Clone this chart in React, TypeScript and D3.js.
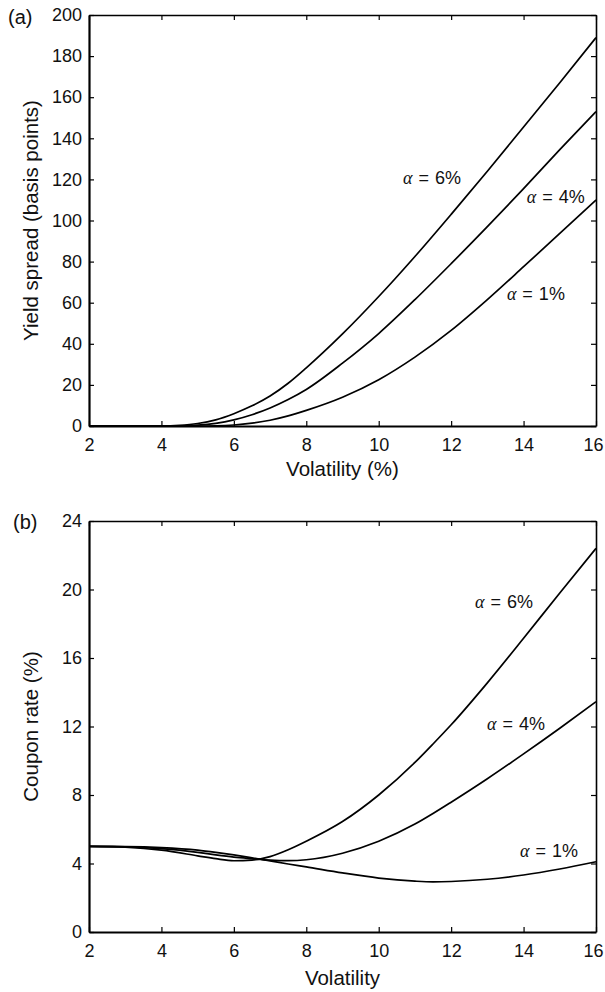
import React, { useRef, useEffect } from 'react';
import * as d3 from 'd3';

// panel (a): yield spread (basis points) against volatility (%)
const volA = [2, 3, 4, 4.5, 5, 5.5, 6, 6.5, 7, 7.5, 8, 9, 10, 11, 12, 13, 14, 15, 16];
const spread6 = [0, 0, 0, 0.3, 1.2, 3, 6, 9.8, 14.6, 20.8, 28.3, 44.8, 63, 82.5, 103, 124, 145.5, 167, 189];
const spread4 = [0, 0, 0, 0.1, 0.4, 1.3, 3, 5.5, 8.8, 12.9, 17.8, 30.6, 45, 61.5, 79, 97, 115.5, 134.5, 153];
const spread1 = [0, 0, 0, 0, 0, 0.1, 0.5, 1.4, 2.8, 4.9, 7.6, 14, 22.5, 33.5, 46.5, 61.5, 77.5, 93.7, 110];

// panel (b): coupon rate (%) against volatility
const volB = [2, 3, 4, 5, 5.5, 6, 6.5, 7, 7.5, 8, 9, 10, 11, 11.5, 12, 13, 14, 15, 16];
const coupon6 = [5.0, 4.95, 4.78, 4.45, 4.28, 4.16, 4.2, 4.4, 4.8, 5.3, 6.45, 8.0, 9.9, 10.98, 12.1, 14.55, 17.15, 19.8, 22.4];
const coupon4 = [5.0, 4.97, 4.87, 4.65, 4.5, 4.37, 4.28, 4.2, 4.17, 4.22, 4.6, 5.3, 6.3, 6.92, 7.58, 8.95, 10.4, 11.9, 13.45];
const coupon1 = [5.0, 4.99, 4.93, 4.78, 4.65, 4.5, 4.33, 4.15, 3.97, 3.8, 3.45, 3.15, 2.97, 2.93, 2.95, 3.08, 3.33, 3.68, 4.1];

const alphaNames = ['6%', '4%', '1%'];
const xTicks = [2, 4, 6, 8, 10, 12, 14, 16];
const spreadTicks = [0, 20, 40, 60, 80, 100, 120, 140, 160, 180, 200];
const couponTicks = [0, 4, 8, 12, 16, 20, 24];

// where each alpha label sits, in data units (volatility, value)
const spreadLabelAt = [[10.67, 117.8], [14.09, 108.5], [13.54, 61.3]];
const couponLabelAt = [[12.66, 18.9], [12.99, 11.8], [13.9, 4.38]];

const SANS = '"Liberation Sans", Arial, Helvetica, sans-serif';
const SERIF = '"Liberation Serif", "Times New Roman", serif';

type PanelOpts = {
  top: number;
  tag: string;
  tagX: number;
  tagY: number;
  xs: number[];
  series: number[][];
  yMax: number;
  yTicks: number[];
  yTitle: string;
  xTitle: string;
  xTitleGap: number;
  labelAt: number[][];
};

const App = () => {
  const svgRef = useRef<SVGSVGElement>(null);

  useEffect(() => {
    const W = 605;
    const H = 992;
    const left = 89;
    const right = 596;
    const panelH = 411;

    const svg = d3.select(svgRef.current);
    svg.selectAll('*').remove();
    svg.attr('width', W).attr('height', H);

    const drawPanel = (o: PanelOpts) => {
      const g = svg.append('g').attr('transform', `translate(0,${o.top})`);
      const x = d3.scaleLinear().domain([2, 16]).range([left, right]);
      const y = d3.scaleLinear().domain([0, o.yMax]).range([panelH, 0]);

      // bottom axis with labels
      const bx = g.append('g')
        .attr('transform', `translate(0,${panelH})`)
        .call(d3.axisBottom(x).tickValues(xTicks).tickSizeInner(-5).tickSizeOuter(0).tickPadding(12).tickFormat(d3.format('d')));
      bx.select('.domain').attr('stroke-width', 2.2);
      bx.selectAll('.tick line').attr('stroke-width', 1.2);
      bx.selectAll('text').style('font-family', SANS).style('font-size', '18px').attr('fill', '#111');
      // last label sits a little inside the page edge
      bx.selectAll<SVGTextElement, number>('text').filter(d => d === 16).attr('dx', -3);

      // left axis with labels
      const ly = g.append('g')
        .attr('transform', `translate(${left},0)`)
        .call(d3.axisLeft(y).tickValues(o.yTicks).tickSizeInner(-5).tickSizeOuter(0).tickPadding(7).tickFormat(d3.format('d')));
      ly.select('.domain').attr('stroke-width', 2.2);
      ly.selectAll('.tick line').attr('stroke-width', 1.2);
      ly.selectAll('text').style('font-family', SANS).style('font-size', '18px').attr('fill', '#111');

      // mirrored ticks on top and right
      const tx = g.append('g')
        .call(d3.axisTop(x).tickValues(xTicks).tickSizeInner(-5).tickSizeOuter(0).tickFormat(() => ''));
      tx.select('.domain').attr('stroke-width', 1.6);
      tx.selectAll('.tick line').attr('stroke-width', 1.2);

      const ry = g.append('g')
        .attr('transform', `translate(${right},0)`)
        .call(d3.axisRight(y).tickValues(o.yTicks).tickSizeInner(-5).tickSizeOuter(0).tickFormat(() => ''));
      ry.select('.domain').attr('stroke-width', 1.6);
      ry.selectAll('.tick line').attr('stroke-width', 1.2);

      // curves
      const line = d3.line<[number, number]>()
        .x(d => x(d[0]))
        .y(d => y(d[1]))
        .curve(d3.curveMonotoneX);

      o.series.forEach(vals => {
        const pts = o.xs.map((v, i) => [v, vals[i]] as [number, number]);
        g.append('path')
          .datum(pts)
          .attr('d', line)
          .attr('fill', 'none')
          .attr('stroke', '#000')
          .attr('stroke-width', 1.7);
      });

      // alpha labels
      o.labelAt.forEach((p, i) => {
        const t = g.append('text')
          .attr('x', x(p[0]))
          .attr('y', y(p[1]))
          .style('font-family', SANS)
          .style('font-size', '18px')
          .style('white-space', 'pre')
          .attr('fill', '#111');
        t.append('tspan')
          .style('font-family', SERIF)
          .style('font-style', 'italic')
          .text('\u03b1');
        t.append('tspan')
          .style('word-spacing', '1px')
          .text(` = ${alphaNames[i]}`);
      });

      // titles
      g.append('text')
        .attr('x', (left + right) / 2)
        .attr('y', panelH + o.xTitleGap)
        .attr('text-anchor', 'middle')
        .style('font-family', SANS)
        .style('font-size', '20.5px')
        .attr('fill', '#111')
        .text(o.xTitle);

      g.append('text')
        .attr('transform', `translate(38,${panelH / 2}) rotate(-90)`)
        .attr('text-anchor', 'middle')
        .style('font-family', SANS)
        .style('font-size', '20.5px')
        .attr('fill', '#111')
        .text(o.yTitle);

      svg.append('text')
        .attr('x', o.tagX)
        .attr('y', o.tagY)
        .style('font-family', SANS)
        .style('font-size', '20px')
        .attr('fill', '#111')
        .text(o.tag);
    };

    drawPanel({
      top: 15,
      tag: '(a)',
      tagX: 8,
      tagY: 24,
      xs: volA,
      series: [spread6, spread4, spread1],
      yMax: 200,
      yTicks: spreadTicks,
      yTitle: 'Yield spread (basis points)',
      xTitle: 'Volatility (%)',
      xTitleGap: 50,
      labelAt: spreadLabelAt,
    });

    drawPanel({
      top: 521,
      tag: '(b)',
      tagX: 13,
      tagY: 529,
      xs: volB,
      series: [coupon6, coupon4, coupon1],
      yMax: 24,
      yTicks: couponTicks,
      yTitle: 'Coupon rate (%)',
      xTitle: 'Volatility',
      xTitleGap: 53,
      labelAt: couponLabelAt,
    });
  }, []);

  return (
    <svg
      ref={svgRef}
      style={{ position: 'absolute', left: 0, top: 0, background: '#fff' }}
    />
  );
};

export default App;
